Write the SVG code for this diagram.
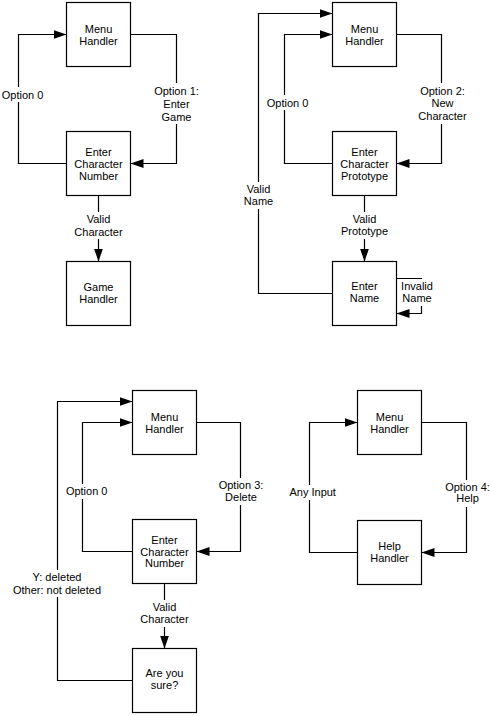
<svg xmlns="http://www.w3.org/2000/svg" width="491" height="716" viewBox="0 0 491 716">
<style>
.box{fill:#fff;stroke:#000;stroke-width:1.2}
.ln{fill:none;stroke:#000;stroke-width:1.2}
.bg{fill:#fff}
text{font-family:"Liberation Sans",Arial,sans-serif;font-size:11px;fill:#000;text-anchor:middle}
</style>
<defs>
<marker id="ah" markerUnits="userSpaceOnUse" markerWidth="14" markerHeight="10" refX="13" refY="4.5" orient="auto">
<path d="M0,0 L13,4.5 L0,9 z" fill="#000"/>
</marker>
</defs>
<rect width="491" height="716" fill="#fff"/>
<g id="connectors">
<!-- Diagram 1 -->
<path class="ln" d="M66.5,163.5 H18.5 V34.5 H66.5" marker-end="url(#ah)"/>
<path class="ln" d="M130.5,34.5 H176.5 V163.5 H130.5" marker-end="url(#ah)"/>
<path class="ln" d="M98.5,195.5 V261.5" marker-end="url(#ah)"/>
<rect class="bg" x="0" y="87" width="45" height="15"/>
<text x="22.5" y="98.5">Option 0</text>
<rect class="bg" x="153" y="83" width="47" height="41"/>
<text x="176.5" y="94.5">Option 1:</text>
<text x="176.5" y="107.5">Enter</text>
<text x="176.5" y="120.5">Game</text>
<rect class="bg" x="73" y="212" width="51" height="27"/>
<text x="98.5" y="223">Valid</text>
<text x="98.5" y="235.5">Character</text>
<!-- Diagram 2 -->
<path class="ln" d="M332.5,293.5 H258.5 V13.5 H332.5" marker-end="url(#ah)"/>
<path class="ln" d="M332.5,163.5 H284.5 V34.5 H332.5" marker-end="url(#ah)"/>
<path class="ln" d="M396.5,34.5 H441.5 V163.5 H396.5" marker-end="url(#ah)"/>
<path class="ln" d="M364.5,195.5 V261.5" marker-end="url(#ah)"/>
<path class="ln" d="M396.5,278.5 H421.5 V313.5 H396.5" marker-end="url(#ah)"/>
<rect class="bg" x="265" y="95" width="45" height="15"/>
<text x="287.5" y="106.5">Option 0</text>
<rect class="bg" x="419" y="83" width="48" height="41"/>
<text x="442.5" y="94.7">Option 2:</text>
<text x="442.5" y="107.3">New</text>
<text x="442.5" y="119.7">Character</text>
<rect class="bg" x="340" y="212" width="50" height="27"/>
<text x="364.5" y="223">Valid</text>
<text x="364.5" y="235">Prototype</text>
<rect class="bg" x="244" y="182" width="30" height="27"/>
<text x="258.5" y="193">Valid</text>
<text x="258.5" y="205">Name</text>
<rect class="bg" x="401" y="279" width="33" height="27"/>
<text x="417" y="290">Invalid</text>
<text x="417" y="302">Name</text>
<!-- Diagram 3 -->
<path class="ln" d="M132.5,680.5 H57.5 V401.5 H132.5" marker-end="url(#ah)"/>
<path class="ln" d="M132.5,551.5 H82.5 V422.5 H132.5" marker-end="url(#ah)"/>
<path class="ln" d="M196.5,422.5 H240.5 V551.5 H196.5" marker-end="url(#ah)"/>
<path class="ln" d="M164.5,583.5 V648.5" marker-end="url(#ah)"/>
<rect class="bg" x="65" y="484" width="44" height="15"/>
<text x="86.7" y="495">Option 0</text>
<rect class="bg" x="218" y="478" width="46" height="27"/>
<text x="241" y="488.5">Option 3:</text>
<text x="241" y="501">Delete</text>
<rect class="bg" x="12" y="570" width="91" height="27"/>
<text x="57" y="581">Y: deleted</text>
<text x="57" y="593.5">Other: not deleted</text>
<rect class="bg" x="139" y="600" width="51" height="27"/>
<text x="164.5" y="611">Valid</text>
<text x="164.5" y="622.5">Character</text>
<!-- Diagram 4 -->
<path class="ln" d="M357.5,552.5 H309.5 V422.5 H357.5" marker-end="url(#ah)"/>
<path class="ln" d="M421.5,422.5 H466.5 V552.5 H421.5" marker-end="url(#ah)"/>
<rect class="bg" x="289" y="485" width="48" height="15"/>
<text x="312.7" y="495.7">Any Input</text>
<rect class="bg" x="444" y="480" width="47" height="27"/>
<text x="467.5" y="490.7">Option 4:</text>
<text x="467.5" y="502.3">Help</text>
</g>
<g id="d1-menu"><rect class="box" x="66.5" y="2.5" width="64" height="64"/><text x="98.5" y="32.5">Menu</text><text x="98.5" y="44.5">Handler</text></g>
<g id="d1-enter"><rect class="box" x="66.5" y="131.5" width="64" height="64"/><text x="98.5" y="155.5">Enter</text><text x="98.5" y="167.5">Character</text><text x="98.5" y="179.5">Number</text></g>
<g id="d1-game"><rect class="box" x="66.5" y="261.5" width="64" height="64"/><text x="98.5" y="290.5">Game</text><text x="98.5" y="302.5">Handler</text></g>
<g id="d2-menu"><rect class="box" x="332.5" y="2.5" width="64" height="64"/><text x="364.5" y="32.5">Menu</text><text x="364.5" y="44.5">Handler</text></g>
<g id="d2-proto"><rect class="box" x="332.5" y="131.5" width="64" height="64"/><text x="364.5" y="155.5">Enter</text><text x="364.5" y="167.5">Character</text><text x="364.5" y="179.5">Prototype</text></g>
<g id="d2-name"><rect class="box" x="332.5" y="261.5" width="64" height="64"/><text x="364.5" y="290">Enter</text><text x="364.5" y="302">Name</text></g>
<g id="d3-menu"><rect class="box" x="132.5" y="390.5" width="64" height="64"/><text x="164.5" y="421">Menu</text><text x="164.5" y="432.5">Handler</text></g>
<g id="d3-enter"><rect class="box" x="132.5" y="519.5" width="64" height="64"/><text x="164.5" y="543.7">Enter</text><text x="164.5" y="555.7">Character</text><text x="164.5" y="567">Number</text></g>
<g id="d3-sure"><rect class="box" x="132.5" y="648.5" width="64" height="64"/><text x="164.5" y="677.3">Are you</text><text x="164.5" y="689">sure?</text></g>
<g id="d4-menu"><rect class="box" x="357.5" y="390.5" width="64" height="64"/><text x="389.5" y="421">Menu</text><text x="389.5" y="432.5">Handler</text></g>
<g id="d4-help"><rect class="box" x="357.5" y="520.5" width="64" height="64"/><text x="389.5" y="549.7">Help</text><text x="389.5" y="562">Handler</text></g>
</svg>
